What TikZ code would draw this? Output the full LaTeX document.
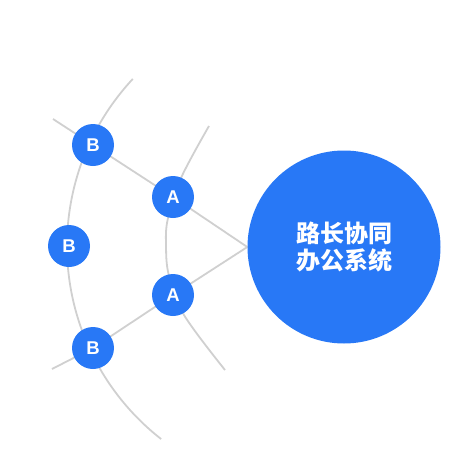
\documentclass[tikz,border=0pt]{standalone}
\usepackage{fontspec}
\setmainfont{Liberation Sans}
\newfontfamily\cjk{Noto Sans CJK SC}
\usetikzlibrary{backgrounds}
\definecolor{nodeblue}{HTML}{2878F6}
\definecolor{linegray}{HTML}{D0D0D0}
\begin{document}
\begin{tikzpicture}[x=1pt,y=-1pt,
  link/.style={draw=linegray,line width=1.8pt},
  small/.style={circle,fill=nodeblue,minimum size=42pt,inner sep=0pt,text=white,font=\fontsize{18.5}{18.5}\selectfont\bfseries},
  bigc/.style={circle,fill=nodeblue,minimum size=193pt,inner sep=0pt,text=white,align=center,font=\cjk\fontsize{24}{27}\selectfont\bfseries}]
\useasboundingbox (0,0) rectangle (458,469);
\node[bigc] (big) at (344,247) {路长协同\\办公系统};
\node[small] (A1) at (173,197) {A};
\node[small] (A2) at (173,295) {A};
\node[small] (B1) at (93,145) {B};
\node[small] (B2) at (69,246) {B};
\node[small] (B3) at (93,348) {B};
\coordinate (e1) at (53,119);
\coordinate (e2) at (52,369);
\begin{pgfonlayer}{background}
\draw[link] (big.west) -- (A1.center) -- (B1.center) -- (e1);
\draw[link] (big.west) -- (A2.center) -- (B3.center) -- (e2);
\draw[link] plot[smooth,tension=0.6] coordinates {(209,126) (181,178) (168,218) (166,245) (169,276) (184,315) (225,370)};
\draw[link] (312,246) ++(223:245) arc[start angle=223,end angle=128,radius=245];
\end{pgfonlayer}
\end{tikzpicture}
\end{document}
